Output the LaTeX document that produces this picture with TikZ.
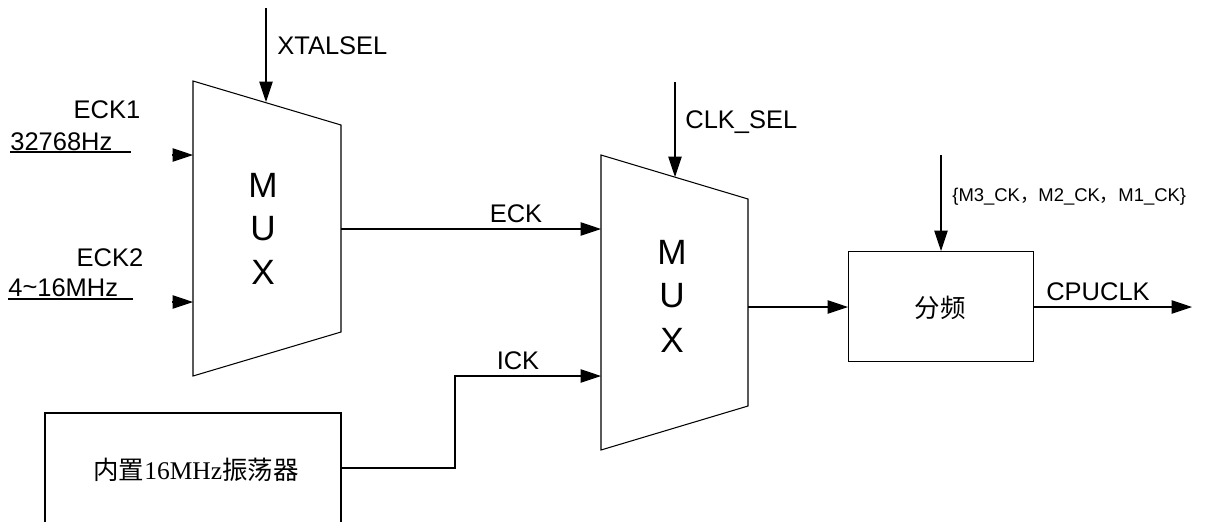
\documentclass[tikz,border=0pt]{standalone}
\usepackage{fontspec}
\setmainfont{Liberation Sans}
\newfontfamily\cjk{Noto Sans CJK SC}
\newfontfamily\serifcjk{Liberation Serif}
\usetikzlibrary{arrows.meta}
\tikzset{
  wire/.style={line width=0.6pt, black},
  arr/.style={wire, -{Triangle[length=0.41cm, width=0.27cm]}},
  lbl/.style={inner sep=0pt, font=\fontsize{14.5}{16}\selectfont},
  muxtxt/.style={inner sep=0pt, font=\fontsize{20}{22}\selectfont},
  small/.style={inner sep=0pt, font=\fontsize{10.5}{12}\selectfont},
}
\begin{document}
\begin{tikzpicture}[x=0.02cm, y=-0.02cm]
\useasboundingbox (0,0) rectangle (1228,522);
% ---- MUX 1 ----
\coordinate (m1tl) at (193,81);
\coordinate (m1tr) at (341,125);
\coordinate (m1br) at (341,332);
\coordinate (m1bl) at (193,376);
\draw[wire] (m1tl) -- (m1tr) -- (m1br) -- (m1bl) -- cycle;
\node[muxtxt] (m1a) at (263,185) {M};
\node[muxtxt] (m1b) at (263,229) {U};
\node[muxtxt] (m1c) at (263,272) {X};
\coordinate (m1sel) at (266,102);
\coordinate (m1in1) at (193,155);
\coordinate (m1in2) at (193,302);
\coordinate (m1out) at (341,229);
% ---- MUX 2 ----
\coordinate (m2tl) at (601,155);
\coordinate (m2tr) at (748,199);
\coordinate (m2br) at (748,406);
\coordinate (m2bl) at (601,450);
\draw[wire] (m2tl) -- (m2tr) -- (m2br) -- (m2bl) -- cycle;
\node[muxtxt] (m2a) at (672,252) {M};
\node[muxtxt] (m2b) at (672,296) {U};
\node[muxtxt] (m2c) at (672,340) {X};
\coordinate (m2sel) at (675,177);
\coordinate (m2in1) at (601,229);
\coordinate (m2in2) at (601,376);
\coordinate (m2out) at (748,307);
% ---- divider box ----
\node[draw, wire, minimum width=3.7cm, minimum height=2.2cm, inner sep=0pt,
      anchor=north west] (div) at (848,251) {};
\node[inner sep=0pt, font=\cjk\fontsize{14.5}{16}\selectfont] (divt) at (940,308) {分频};
% ---- oscillator box (open at bottom) ----
\coordinate (oscbl) at (45,522);
\coordinate (osctl) at (45,413);
\coordinate (osctr) at (341,413);
\coordinate (oscbr) at (341,522);
\draw[wire] (oscbl) -- (osctl) -- (osctr) -- (oscbr);
\node[inner sep=0pt, font=\fontsize{14.5}{16}\selectfont] (osct) at (196,470)
  {{\cjk 内置}{\serifcjk 16MHz}{\cjk 振荡器}};
\coordinate (oscout) at (341,468);
% ---- inputs ----
\coordinate (in1) at (172,155);
\coordinate (in2) at (172,302);
\draw[arr] (in1) -- (m1in1);
\draw[arr] (in2) -- (m1in2);
\node[lbl] (eck1) at (107,110) {ECK1};
\node[lbl, anchor=west] (f1) at (10,142) {32768Hz};
\coordinate (u1a) at (10,152);
\coordinate (u1b) at (131,152);
\draw[wire, line width=0.8pt] (u1a) -- (u1b);
\node[lbl] (eck2) at (110,258) {ECK2};
\node[lbl, anchor=west] (f2) at (8,288) {4\raisebox{0.1ex}{\textasciitilde}16MHz};
\coordinate (u2a) at (8,299);
\coordinate (u2b) at (133,299);
\draw[wire, line width=0.8pt] (u2a) -- (u2b);
% ---- selects ----
\coordinate (xs) at (266,8);
\draw[arr] (xs) -- (m1sel);
\node[lbl, anchor=west] (xtal) at (277,46) {XTALSEL};
\coordinate (cs) at (675,82);
\draw[arr] (cs) -- (m2sel);
\node[lbl, anchor=west] (clksel) at (685,122) {CLK\_SEL};
\coordinate (ds) at (941,155);
\draw[arr] (ds) -- (div.north -| ds);
\node[small, anchor=west] (mck) at (952,197) {\{M3\_CK{\cjk ，}M2\_CK{\cjk ，}M1\_CK\}};
% ---- connections ----
\draw[arr] (m1out) -- (m2in1);
\node[lbl] (eck) at (516,214) {ECK};
\coordinate (ickm) at (455,468);
\coordinate (ickt) at (455,376);
\draw[arr] (oscout) -- (ickm) -- (ickt) -- (m2in2);
\node[lbl] (ick) at (518,361) {ICK};
\draw[arr] (m2out) -- (div.west |- m2out);
\coordinate (cpu) at (1192,307);
\draw[arr] (div.east |- cpu) -- (cpu);
\node[lbl] (cpuclk) at (1098,292) {CPUCLK};
\end{tikzpicture}
\end{document}
